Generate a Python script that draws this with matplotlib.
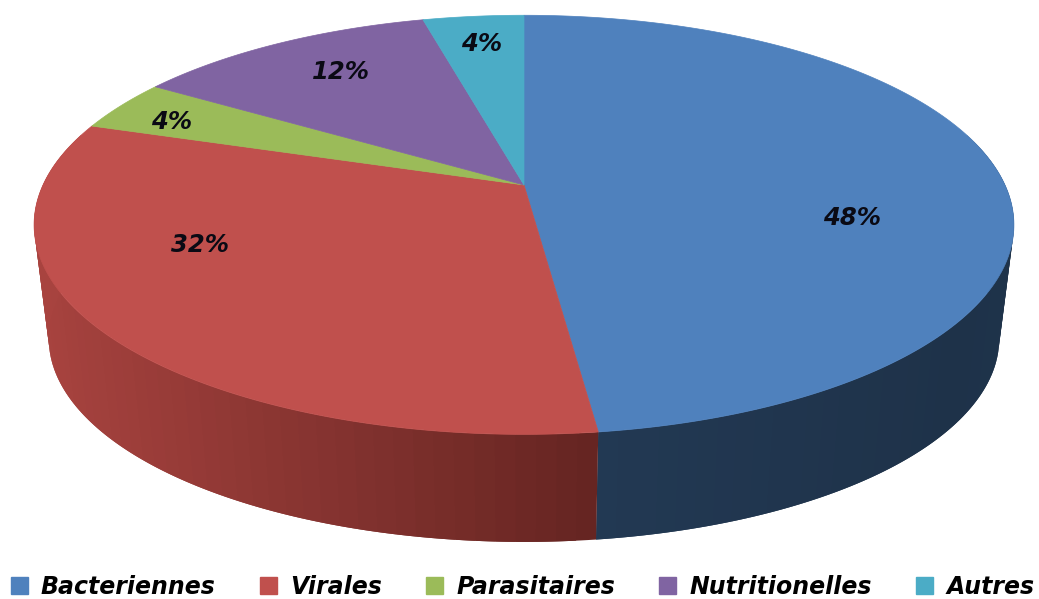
import numpy as np
import matplotlib
matplotlib.use("Agg")
import matplotlib.pyplot as plt
from matplotlib.patches import Patch

labels = ["Bacteriennes", "Virales", "Parasitaires", "Nutritionelles", "Autres"]
values = [48, 32, 4, 12, 4]

colors = ["#4f81bd", "#c0504d", "#9bbb59", "#8064a2", "#4bacc6"]
# side wall shades, start and end of each slice (only first two are seen)
side_start = ["#1e3249", "#662522", "#5d7035", "#4c3c61", "#2d6776"]
side_end = ["#233a55", "#a8433f", "#5d7035", "#4c3c61", "#2d6776"]
label_xy = [(852, 218), (200, 245), (172, 122), (341, 72), (482, 44)]

# perspective view of the disc, in pixels
CX, CY, A, B, K = 524, 185, 481, 202, 0.19
BOT_CY, BOT_S = 300, 0.97


def top(t, cy=CY, s=1.0):
    x, y = np.sin(t), np.cos(t)
    return CX + s * A * x / (1 + K * y), cy - s * B * y / (1 + K * y)


def mix(c1, c2, f):
    a = np.array(matplotlib.colors.to_rgb(c1))
    b = np.array(matplotlib.colors.to_rgb(c2))
    return a + (b - a) * f


plt.rcParams["font.family"] = ["DejaVu Sans"]
fig = plt.figure(figsize=(10.39, 5.99), dpi=100)
ax = fig.add_axes([0, 0, 1, 1])
ax.set_xlim(0, 1039)
ax.set_ylim(599, 0)
ax.axis("off")

edges = np.radians(np.cumsum([0] + values) * 3.6)

# side wall, little quads so the shade can change along it
wall_lo, wall_hi = np.radians(75), np.radians(285)
for i in range(len(values)):
    t0, t1 = max(edges[i], wall_lo), min(edges[i + 1], wall_hi)
    if t1 <= t0:
        continue
    n = max(2, int(np.degrees(t1 - t0) / 2))
    ts = np.linspace(t0, t1, n + 1)
    xs = top(ts)[0]
    for j in range(n):
        # run each quad into the next one, the next paints over it (no seams)
        end = ts[min(j + 2, n)]
        tt = np.linspace(ts[j], end, 6)
        x1, y1 = top(tt)
        x2, y2 = top(tt[::-1], BOT_CY, BOT_S)
        # shade follows x on the screen, not the angle
        f = min(1, abs(xs[j] - xs[0]) / abs(xs.max() - xs.min()))
        c = mix(side_start[i], side_end[i], f)
        ax.fill(np.r_[x1, x2], np.r_[y1, y2], color=c, lw=0)

# top face
for i in range(len(values)):
    tt = np.linspace(edges[i], edges[i + 1], 200)
    x, y = top(tt)
    ax.fill(np.r_[CX, x], np.r_[CY, y], color=colors[i], lw=0.5)

for v, (lx, ly) in zip(values, label_xy):
    ax.text(lx, ly, f"{v}%", ha="center", va="center", fontsize=17.5,
            fontweight="bold", fontstyle="italic", color="#0a0a14")

handles = [Patch(color=c) for c in colors]
ax.legend(handles, labels, ncol=5, loc="lower center", bbox_to_anchor=(0.503, 0.0),
          frameon=False, handlelength=0.72, handleheight=0.72, handletextpad=0.55,
          borderaxespad=0, borderpad=0, columnspacing=1.88,
          prop={"size": 17, "weight": "bold", "style": "italic"})

fig.savefig("out.png", dpi=100)
